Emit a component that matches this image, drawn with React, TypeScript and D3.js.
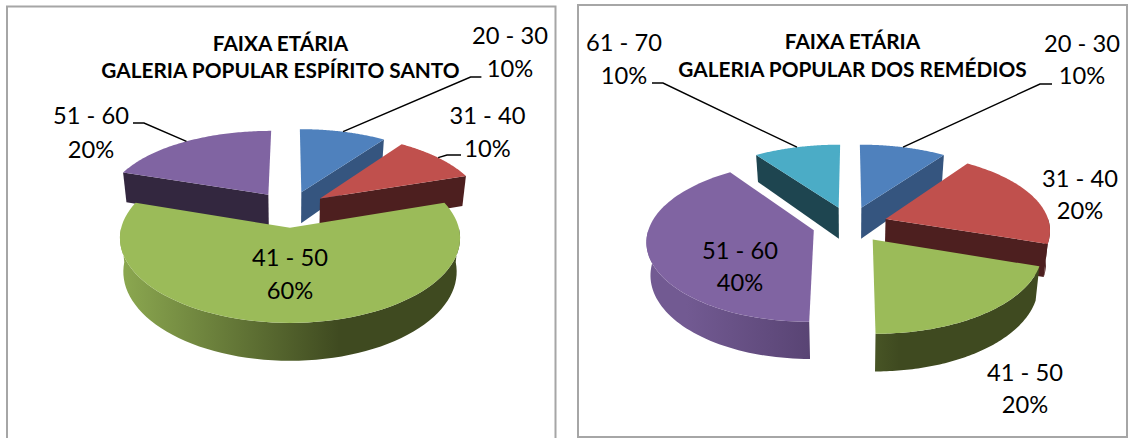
import React from "react";
import * as d3 from "d3";

const leftCategories = ["20 - 30", "31 - 40", "41 - 50", "51 - 60"];
const leftValues = [10, 10, 60, 20];
const rightCategories = ["20 - 30", "31 - 40", "41 - 50", "51 - 60", "61 - 70"];
const rightValues = [10, 20, 20, 40, 10];
const leftTitle = ["FAIXA ETÁRIA", "GALERIA POPULAR ESPÍRITO SANTO"];
const rightTitle = ["FAIXA ETÁRIA", "GALERIA POPULAR DOS REMÉDIOS"];
const topColors = ["#4F81BD", "#C0504D", "#9BBB59", "#8064A2", "#4BACC6"];
const wallColors = ["#35557F", "#4D1F1F", "#3F4A20", "#33273F", "#1E4550"];
const rimLight = ["#4F81BD", "#7a2f2d", "#8AA64F", "#725a92", "#2f7486"];
const rimDark = ["#35557F", "#4D1F1F", "#3F4A20", "#47345e", "#1E4550"];

// layout
const R = 164, KY = 79, QY = 0.14, PX = 0.1275, EXPLODE = 0.23, H0 = 32, HR = 0.15, NARROW = 0.02;
const FONT = "Lato, Carlito, Calibri, sans-serif";
const TEXT_DY = -1;

type Lbl = { x: number; y1: number; y2: number };
type Leader = { bend: [number, number]; end: [number, number] };

const leftLayout = {
  cx: 290, cy: 209, titleX: 280.5, titleY: [43, 70],
  labels: [
    { x: 510, y1: 36, y2: 69 },
    { x: 487.5, y1: 116, y2: 149 },
    { x: 290, y1: 258, y2: 291 },
    { x: 91, y1: 116, y2: 150 },
  ] as Lbl[],
  leaders: {
    0: { bend: [470.6, 77], end: [481.4, 77] },
    1: { bend: [447, 155], end: [461, 155] },
    3: { bend: [144, 123], end: [133, 123] },
  } as Record<number, Leader>,
};
const rightLayout = {
  cx: 850, cy: 224.5, titleX: 852.5, titleY: [41, 69],
  labels: [
    { x: 1082, y1: 44, y2: 76 },
    { x: 1080, y1: 179, y2: 211 },
    { x: 1025, y1: 373, y2: 405 },
    { x: 740, y1: 251, y2: 283 },
    { x: 624, y1: 43, y2: 76 },
  ] as Lbl[],
  leaders: {
    0: { bend: [1040, 84], end: [1052, 84] },
    4: { bend: [663, 83], end: [652, 83] },
  } as Record<number, Leader>,
};

function Pie3D({ id, values, categories, title, layout }: any) {
  const { cx, cy } = layout;
  const arcs = d3.pie<number>().sort(null).startAngle(0).endAngle(2 * Math.PI)(values);
  const xScale = d3.scaleLinear().domain([0, 1]).range([0, R]);
  const yScale = d3.scaleLinear().domain([0, 1]).range([0, KY]);
  const project = (u: number, v: number, z: number): [number, number] => [
    cx + xScale(u) * (1 + PX * v) * (1 - NARROW * z),
    cy + yScale(v) * (1 + QY * v) + H0 * z * (1 + HR * v),
  ];
  const line = d3.line<[number, number]>();
  const slices = arcs.map((a: any, i: number) => {
    const mid = (a.startAngle + a.endAngle) / 2;
    const ox = EXPLODE * Math.sin(mid), oy = -EXPLODE * Math.cos(mid);
    const at = (t: number, r: number, z: number) =>
      project(ox + r * Math.sin(t), oy - r * Math.cos(t), z);
    const angles = d3.range(0, 81).map((k) => a.startAngle + ((a.endAngle - a.startAngle) * k) / 80);
    const topPts = angles.map((t) => at(t, 1, 0));
    const front = angles.filter((t) => Math.cos(t) <= 0.03);
    const rimPts = [...front.map((t) => at(t, 1, 0)), ...front.slice().reverse().map((t) => at(t, 1, 1))];
    const apexT = at(0, 0, 0), apexB = at(0, 0, 1);
    const wall = (t: number) => [apexT, at(t, 1, 0), at(t, 1, 1), apexB] as [number, number][];
    return {
      i, mid, order: -Math.cos(mid),
      top: line([apexT, ...topPts])! + "Z",
      rim: rimPts.length > 2 ? line(rimPts)! + "Z" : null,
      w1: -Math.sin(a.startAngle) > 0.01 ? line(wall(a.startAngle))! + "Z" : null,
      w2: Math.sin(a.endAngle) > 0.01 ? line(wall(a.endAngle))! + "Z" : null,
      anchor: at(mid, 1, 0),
    };
  });
  const drawn = slices.slice().sort((a: any, b: any) => a.order - b.order);
  const gx1 = cx - R, gx2 = cx + R * 0.3;
  return (
    <g>
      <defs>
        {slices.map((s: any) => (
          <linearGradient key={s.i} id={`${id}-rim-${s.i}`} gradientUnits="userSpaceOnUse" x1={gx1} x2={gx2} y1={0} y2={0}>
            <stop offset="0" stopColor={rimLight[s.i]} />
            <stop offset="1" stopColor={rimDark[s.i]} />
          </linearGradient>
        ))}
      </defs>
      {drawn.map((s: any) => (
        <g key={s.i}>
          {s.w1 && <path d={s.w1} fill={wallColors[s.i]} />}
          {s.w2 && <path d={s.w2} fill={wallColors[s.i]} />}
          {s.rim && <path d={s.rim} fill={`url(#${id}-rim-${s.i})`} />}
          <path d={s.top} fill={topColors[s.i]} />
        </g>
      ))}
      {slices.map((s: any) => {
        const l = layout.leaders[s.i];
        if (!l) return null;
        return (
          <path key={s.i} d={line([s.anchor, l.bend, l.end])!} fill="none" stroke="#000" strokeWidth={1.4} />
        );
      })}
      {title.map((t: string, i: number) => (
        <text key={i} x={layout.titleX} y={layout.titleY[i] + TEXT_DY} textAnchor="middle" dominantBaseline="central"
          fontFamily={FONT} fontWeight={700} fontSize={20.8} fill="#000">{t}</text>
      ))}
      {categories.map((c: string, i: number) => (
        <g key={i} fontFamily={FONT} fontSize={23.7} fill="#000" textAnchor="middle">
          <text x={layout.labels[i].x} y={layout.labels[i].y1 + TEXT_DY} dominantBaseline="central">{c}</text>
          <text x={layout.labels[i].x} y={layout.labels[i].y2 + TEXT_DY} dominantBaseline="central">{values[i]}%</text>
        </g>
      ))}
    </g>
  );
}

export default function App() {
  return (
    <svg width={1128} height={438} style={{ position: "absolute", left: 0, top: 0, display: "block", background: "#fff" }}>
      <path d="M7,438V6.5H555.5V438" fill="none" stroke="#a6a6a6" strokeWidth={2} />
      <rect x={578} y={5} width={549} height={432} fill="none" stroke="#a6a6a6" strokeWidth={2} />
      <Pie3D id="l" values={leftValues} categories={leftCategories} title={leftTitle} layout={leftLayout} />
      <Pie3D id="r" values={rightValues} categories={rightCategories} title={rightTitle} layout={rightLayout} />
    </svg>
  );
}
